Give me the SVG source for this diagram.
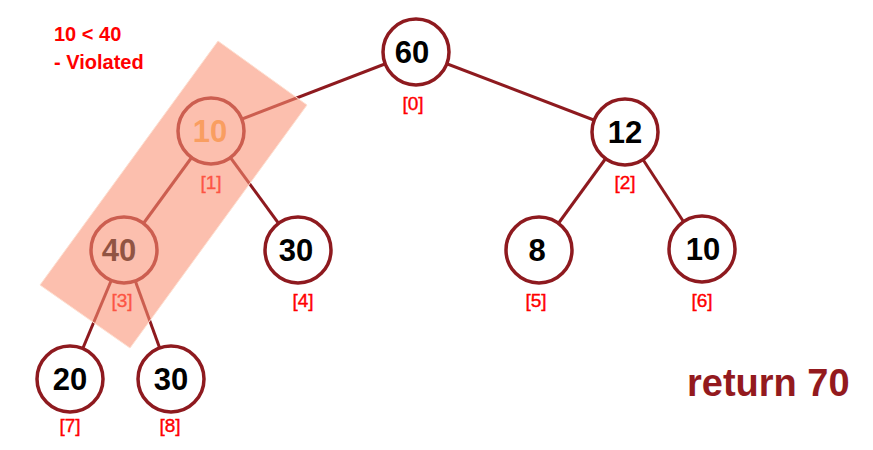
<svg xmlns="http://www.w3.org/2000/svg" width="873" height="450" viewBox="0 0 873 450">
<style>
.node circle{fill:#fff;stroke:#8E1A1F;stroke-width:3.5}
.val{font-family:"Liberation Sans",Arial,sans-serif;font-weight:bold;font-size:31px;fill:#000;text-anchor:middle}
.idx{font-family:"Liberation Sans",Arial,sans-serif;font-size:19px;fill:#FF0000;stroke:#FF0000;stroke-width:0.4;text-anchor:middle}
.edges line{stroke:#8E1A1F;stroke-width:3}
.note{font-family:"Liberation Sans",Arial,sans-serif;font-weight:bold;font-size:20px;fill:#FF0000}
</style>
<rect width="873" height="450" fill="#fff"/>
<g id="connectors" class="edges">
<line x1="416" y1="52" x2="211" y2="131"/>
<line x1="416" y1="52" x2="625" y2="132"/>
<line x1="211" y1="131" x2="124" y2="250"/>
<line x1="211" y1="131" x2="298" y2="250"/>
<line x1="625" y1="132" x2="539" y2="250"/>
<line x1="625" y1="132" x2="702" y2="250"/>
<line x1="124" y1="250" x2="70" y2="379"/>
<line x1="124" y1="250" x2="171" y2="379"/>
</g>
<g id="n0" class="node"><circle cx="416" cy="52" r="33"/><text class="val" x="412" y="63">60</text><text class="idx" x="413" y="110">[0]</text></g>
<g id="n1" class="node"><circle cx="211" cy="131" r="33"/><text class="val" x="210" y="142" style="fill:#F8B048">10</text><text class="idx" x="211" y="189">[1]</text></g>
<g id="n2" class="node"><circle cx="625" cy="132" r="33"/><text class="val" x="625" y="143">12</text><text class="idx" x="625" y="189">[2]</text></g>
<g id="n3" class="node"><circle cx="124" cy="250" r="33"/><text class="val" x="119" y="261">40</text><text class="idx" x="122" y="307">[3]</text></g>
<g id="n4" class="node"><circle cx="298" cy="250" r="33"/><text class="val" x="296" y="261">30</text><text class="idx" x="303" y="307">[4]</text></g>
<g id="n5" class="node"><circle cx="539" cy="250" r="33"/><text class="val" x="537" y="261">8</text><text class="idx" x="536" y="307">[5]</text></g>
<g id="n6" class="node"><circle cx="702" cy="249" r="33"/><text class="val" x="703" y="260">10</text><text class="idx" x="702" y="307">[6]</text></g>
<g id="n7" class="node"><circle cx="70" cy="379" r="33"/><text class="val" x="70" y="390">20</text><text class="idx" x="70" y="432">[7]</text></g>
<g id="n8" class="node"><circle cx="171" cy="379" r="33"/><text class="val" x="171" y="390">30</text><text class="idx" x="170" y="432">[8]</text></g>
<polygon id="highlight" points="218,41 307,105 130,348 40,285" fill="#FA9174" fill-opacity="0.58" stroke="#FDE0D2" stroke-width="1"/>
<text class="note" x="54" y="41">10 &lt; 40</text>
<text class="note" x="54" y="69">- Violated</text>
<text x="687" y="396" font-family="'Liberation Sans',Arial,sans-serif" font-weight="bold" font-size="38" fill="#931A1E">return 70</text>
</svg>
